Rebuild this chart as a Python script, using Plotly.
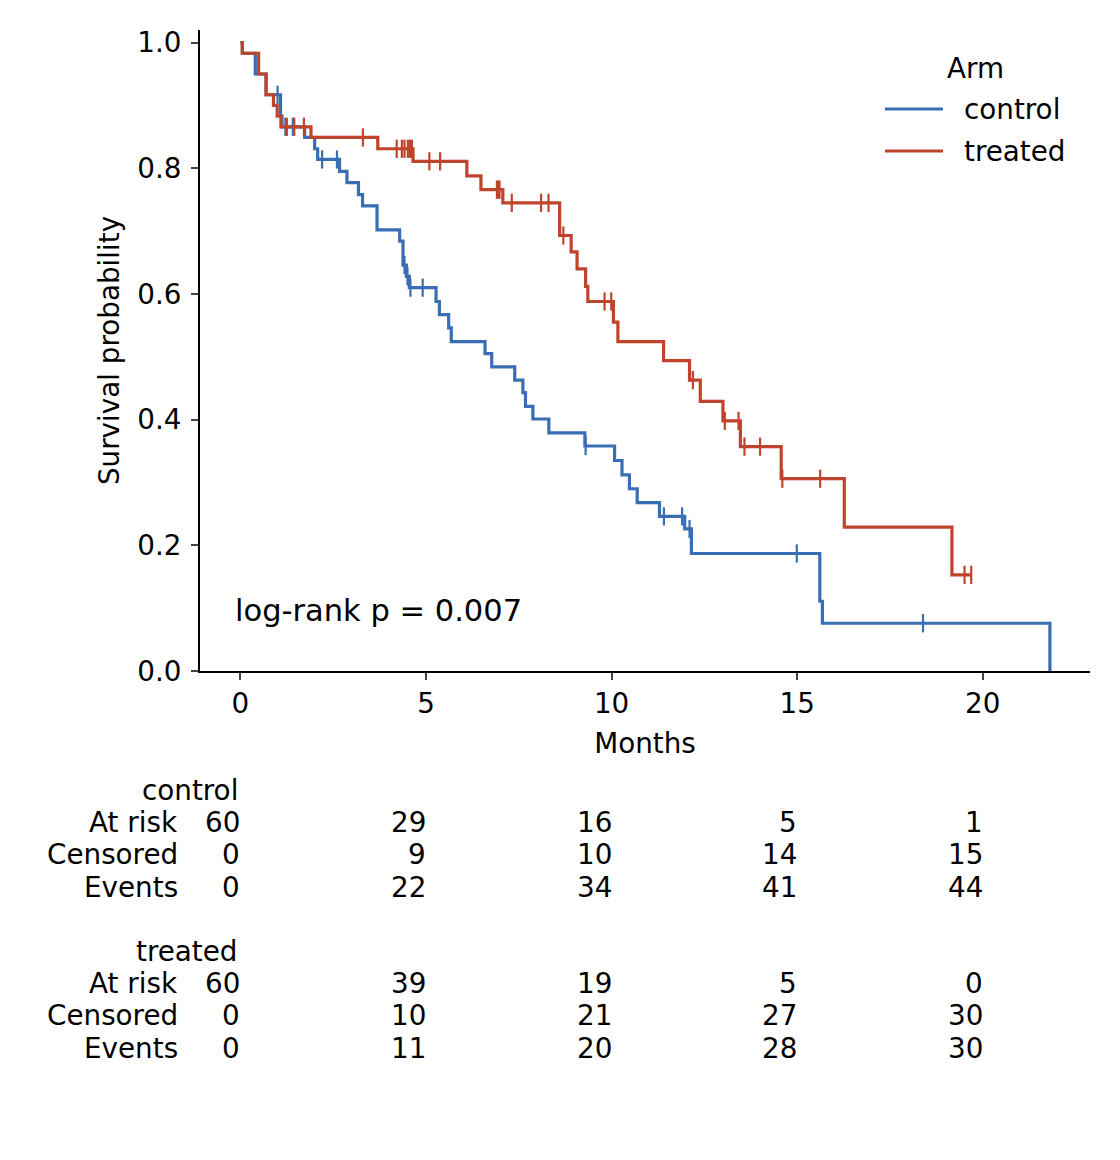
import numpy as np
import plotly.graph_objects as go

# ---------------- data ----------------
arms = ["control", "treated"]

control_times = [0.0, 0.05, 0.40, 0.69, 1.08, 1.12, 1.73, 2.00, 2.08, 2.67, 2.87, 3.18, 3.29,
                 3.68, 4.29, 4.38, 4.47, 4.55, 5.27, 5.36, 5.61, 5.68, 6.59, 6.77, 7.39,
                 7.61, 7.68, 7.88, 8.31, 9.28, 10.08, 10.28, 10.48, 10.69, 11.29, 11.97,
                 12.15, 15.61, 15.68, 21.81]
control_surv = [1.0, 0.983, 0.950, 0.917, 0.883, 0.866, 0.849, 0.831, 0.814, 0.795, 0.777,
                0.758, 0.740, 0.702, 0.684, 0.646, 0.628, 0.610, 0.588, 0.567, 0.546, 0.524,
                0.505, 0.484, 0.463, 0.443, 0.421, 0.401, 0.379, 0.358, 0.335, 0.312, 0.290,
                0.268, 0.246, 0.226, 0.187, 0.111, 0.076, 0.0]
control_censor = [1.00, 1.21, 1.41, 2.20, 2.60, 4.42, 4.50, 4.58, 4.91, 9.30, 11.41, 11.90,
                  12.10, 14.99, 18.39]

treated_times = [0.0, 0.05, 0.49, 0.69, 0.89, 0.99, 1.09, 1.90, 3.70, 4.65, 6.10, 6.48, 7.07,
                 8.60, 8.91, 9.07, 9.30, 9.36, 10.05, 10.17, 11.40, 12.10, 12.39, 13.00,
                 13.47, 14.57, 16.27, 19.17]
treated_surv = [1.0, 0.983, 0.950, 0.917, 0.900, 0.883, 0.866, 0.849, 0.831, 0.811, 0.788,
                0.766, 0.745, 0.693, 0.667, 0.640, 0.612, 0.588, 0.555, 0.524, 0.494, 0.463,
                0.429, 0.398, 0.357, 0.306, 0.229, 0.153]
treated_censor = [1.25, 1.45, 1.71, 3.30, 4.21, 4.35, 4.42, 4.51, 4.57, 4.62, 5.09, 5.38,
                  6.91, 6.95, 6.98, 7.31, 8.10, 8.30, 8.70, 9.81, 9.99, 12.19, 13.05, 13.42,
                  13.58, 14.00, 14.60, 15.62, 19.51, 19.69]

table_times = [0, 5, 10, 15, 20]
control_at_risk = [60, 29, 16, 5, 1]
control_censored = [0, 9, 10, 14, 15]
control_events = [0, 22, 34, 41, 44]
treated_at_risk = [60, 39, 19, 5, 0]
treated_censored = [0, 10, 21, 27, 30]
treated_events = [0, 11, 20, 28, 30]

p_value_text = "log-rank p = 0.007"

# ---------------- styling ----------------
FONT = "DejaVu Sans"
FS = 27.8
COLORS = {"control": "#3A6EB4", "treated": "#C0442B"}

W, H = 1120, 1160
L, R, T, B = 200, 1090, 30, 671  # plot area in pixels
X_RANGE = [-1.09, 22.89]
PX_PER_UNIT = (R - L) / (X_RANGE[1] - X_RANGE[0])


def px_x(px):
    return (px - L) / (R - L)


def px_y(py):
    return (B - py) / (B - T)


def surv_at(times, surv, t):
    idx = np.searchsorted(np.asarray(times), t, side="right") - 1
    return np.asarray(surv)[idx]


fig = go.Figure()

series = {
    "control": (control_times, control_surv, control_censor),
    "treated": (treated_times, treated_surv, treated_censor),
}

for arm in arms:
    times, surv, cens = series[arm]
    xs = list(times)
    ys = list(surv)
    t_end = max(cens)
    if t_end > xs[-1]:
        xs.append(t_end)
        ys.append(ys[-1])
    fig.add_trace(go.Scatter(
        x=xs, y=ys, mode="lines", line_shape="hv",
        line=dict(color=COLORS[arm], width=3.2), name=arm, showlegend=False,
        hoverinfo="skip"))
    fig.add_trace(go.Scatter(
        x=cens, y=surv_at(times, surv, cens), mode="markers",
        marker=dict(symbol="line-ns", size=13,
                    line=dict(color=COLORS[arm], width=2.2)),
        name=arm + " censored", showlegend=False, hoverinfo="skip"))

annotations = []

# p-value
annotations.append(dict(x=px_x(233), y=px_y(610), xref="paper", yref="paper",
                        text=p_value_text, showarrow=False, xanchor="left",
                        yanchor="middle", font=dict(family=FONT, size=30.5, color="black")))

# manual legend
annotations.append(dict(x=px_x(975), y=px_y(68), xref="paper", yref="paper", text="Arm",
                        showarrow=False, xanchor="center", yanchor="middle",
                        font=dict(family=FONT, size=FS, color="black")))
shapes = []
for i, arm in enumerate(arms):
    yy = px_y(109 + 42 * i)
    shapes.append(dict(type="line", xref="paper", yref="paper", x0=px_x(885), x1=px_x(943),
                       y0=yy, y1=yy, line=dict(color=COLORS[arm], width=3.2)))
    annotations.append(dict(x=px_x(962), y=yy, xref="paper", yref="paper", text=arm,
                            showarrow=False, xanchor="left", yanchor="middle",
                            font=dict(family=FONT, size=FS, color="black")))

# at-risk table
tables = {
    "control": (control_at_risk, control_censored, control_events, 790),
    "treated": (treated_at_risk, treated_censored, treated_events, 951),
}
row_names = ["At risk", "Censored", "Events"]
shift = 2 / PX_PER_UNIT  # compensate annotation padding so text ends at the tick
for arm in arms:
    at_risk, censored, events, y0 = tables[arm]
    annotations.append(dict(x=0, y=px_y(y0), xref="x", yref="paper", text=arm,
                            showarrow=False, xanchor="right", yanchor="middle",
                            font=dict(family=FONT, size=FS, color="black")))
    for r, (name, vals) in enumerate(zip(row_names, [at_risk, censored, events])):
        yy = px_y(y0 + 32.4 * (r + 1))
        annotations.append(dict(x=px_x(180), y=yy, xref="paper", yref="paper", text=name,
                                showarrow=False, xanchor="right", yanchor="middle",
                                font=dict(family=FONT, size=FS, color="black")))
        for t, v in zip(table_times, vals):
            annotations.append(dict(x=t + shift, y=yy, xref="x", yref="paper", text=str(v),
                                    showarrow=False, xanchor="right", yanchor="middle",
                                    font=dict(family=FONT, size=FS, color="black")))

fig.update_layout(
    width=W, height=H,
    margin=dict(l=L, r=W - R, t=T, b=H - B),
    paper_bgcolor="white", plot_bgcolor="white",
    font=dict(family=FONT, size=FS, color="black"),
    showlegend=False,
    annotations=annotations,
    shapes=shapes,
    xaxis=dict(range=X_RANGE, tickvals=table_times, ticks="outside", ticklen=7,
               tickwidth=2, showline=True, linewidth=2, linecolor="black",
               showgrid=False, zeroline=False,
               title=dict(text="Months", standoff=14, font=dict(family=FONT, size=FS)),
               tickfont=dict(family=FONT, size=FS)),
    yaxis=dict(range=[0, 1.02], tickvals=[0, 0.2, 0.4, 0.6, 0.8, 1.0], tickformat=".1f",
               ticks="outside", ticklen=7, tickwidth=2, showline=True, linewidth=2,
               linecolor="black", showgrid=False, zeroline=False, ticklabelstandoff=4,
               title=dict(text="Survival probability", standoff=9,
                          font=dict(family=FONT, size=FS)),
               tickfont=dict(family=FONT, size=FS)),
)

fig.write_html("out.html")
